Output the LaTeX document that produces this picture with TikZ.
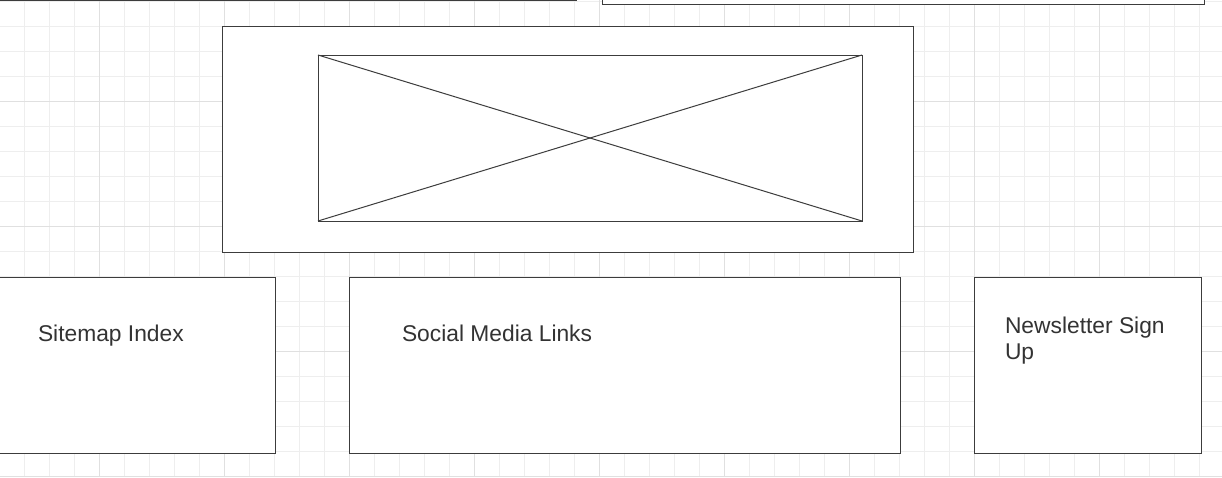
\documentclass[tikz,border=0pt]{standalone}
\usepackage{fontspec}
\setmainfont{Liberation Sans}
\definecolor{gridminor}{HTML}{EEEEEE}
\definecolor{gridmajor}{HTML}{E0E0E0}
\definecolor{ink}{HTML}{3C3C3C}
\definecolor{txt}{HTML}{333333}
\begin{document}
\begin{tikzpicture}[x=1pt,y=-1pt,
  box/.style={draw=ink,line width=1pt,fill=white,inner sep=0pt,outer sep=0pt,anchor=north west},
  lbl/.style={text=txt,font=\fontsize{22.8}{26}\selectfont,inner sep=0pt,outer sep=0pt,align=left},
  xline/.style={draw=ink,line width=1pt}]
\useasboundingbox (0,0) rectangle (1222,477);
\fill[white] (0,0) rectangle (1222,477);
% grid
\foreach \x in {-1,24,...,1224} \draw[gridminor,line width=1pt] (\x,0) -- (\x,477);
\foreach \y in {1,26,...,476} \draw[gridminor,line width=1pt] (0,\y) -- (1222,\y);
\foreach \x in {99,224,...,1224} \draw[gridmajor,line width=1pt] (\x,0) -- (\x,477);
\foreach \y in {101,226,351,476} \draw[gridmajor,line width=1pt] (0,\y) -- (1222,\y);
% top boxes (cut off)
\node[box,minimum width=586pt,minimum height=51pt] (topleft) at (-10,-50.5) {};
\node[box,minimum width=602pt,minimum height=54pt] (topright) at (602,-50) {};
% main image area
\node[box,minimum width=691pt,minimum height=226pt] (main) at (222,26) {};
\node[box,minimum width=544pt,minimum height=166pt] (img) at (318,55) {};
\draw[xline] (img.north west) -- (img.south east);
\draw[xline] (img.south west) -- (img.north east);
% bottom boxes
\node[box,minimum width=285pt,minimum height=176pt] (sitemap) at (-10,277) {};
\node[box,minimum width=551pt,minimum height=176pt] (social) at (349,277) {};
\node[box,minimum width=227pt,minimum height=176pt] (news) at (974,277) {};
% labels
\node[lbl,anchor=base west] (sitemaptxt) at (38,341) {Sitemap Index};
\node[lbl,anchor=base west] (socialtxt) at (402,341) {Social Media Links};
\node[lbl,anchor=base west] (newstxt) at (1005,359) {Newsletter Sign\\Up};
\end{tikzpicture}
\end{document}
